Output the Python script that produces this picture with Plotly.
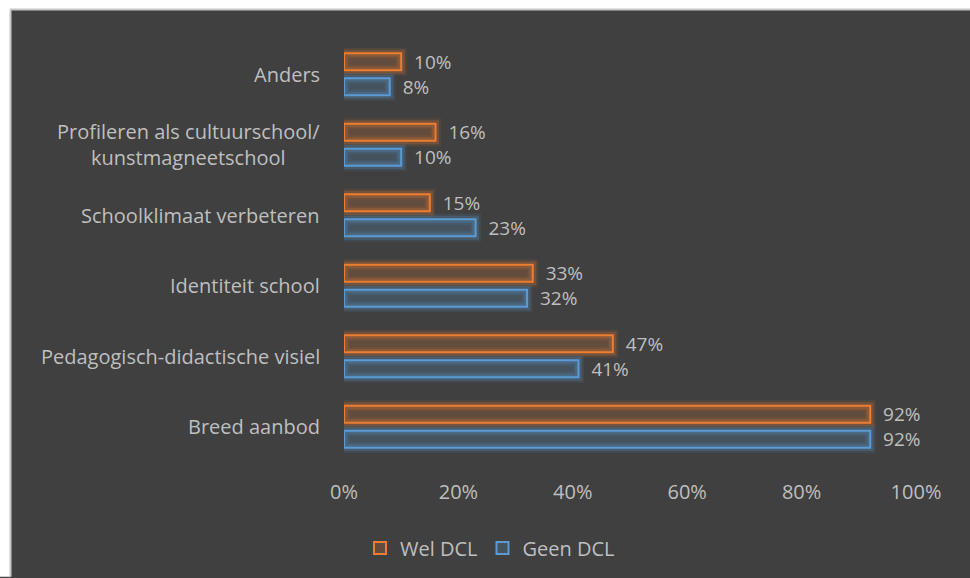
import plotly.graph_objects as go

categories = ["Anders", "Profileren als cultuurschool/<br>kunstmagneetschool",
              "Schoolklimaat verbeteren", "Identiteit school",
              "Pedagogisch-didactische visiel", "Breed aanbod"]
wel_dcl = [0.10, 0.16, 0.15, 0.33, 0.47, 0.92]
geen_dcl = [0.08, 0.10, 0.23, 0.32, 0.41, 0.92]
x_ticks = [0, 0.2, 0.4, 0.6, 0.8, 1.0]
x_tick_labels = ["0%", "20%", "40%", "60%", "80%", "100%"]

ORANGE = "#ED7D31"
BLUE = "#5B9BD5"
BG = "#404040"
TXT = "#bfbfbf"
FONT = "Open Sans"
FS = 20

# plot area in pixels
L, R, T, B = 344, 916, 39, 463
W, H = R - L, B - T

def px_x(p):
    return (p - L) / W

def px_y(p):
    return (B - p) / H

bar_w = 0.24
off_o = -0.297
off_b = 0.057

fig = go.Figure()
series = [("Wel DCL", wel_dcl, ORANGE, "rgba(237,125,49,0.19)", (237, 125, 49), off_o),
          ("Geen DCL", geen_dcl, BLUE, "rgba(91,155,213,0.21)", (91, 155, 213), off_b)]

# glow layers
for name, vals, col, fill, rgb, off in series:
    for gw, ga in ((11, 0.10), (7, 0.22)):
        fig.add_trace(go.Bar(
            y=categories, x=vals, orientation="h", width=bar_w, offset=off,
            marker=dict(color="rgba(0,0,0,0)",
                        line=dict(color=f"rgba({rgb[0]},{rgb[1]},{rgb[2]},{ga})", width=gw)),
            showlegend=False, hoverinfo="skip"))

for name, vals, col, fill, rgb, off in series:
    fig.add_trace(go.Bar(
        y=categories, x=vals, orientation="h", name=name, width=bar_w, offset=off,
        marker=dict(color=fill, line=dict(color=col, width=2)),
        text=["\u00a0\u00a0" + f"{round(v*100)}%" for v in vals],
        textposition="outside", cliponaxis=False, constraintext="none",
        textfont=dict(family=FONT, size=19, color=TXT)))

for c in categories:
    fig.add_annotation(x=0, xref="paper", y=c, yref="y", text=c, showarrow=False,
                       xanchor="right", xshift=-22, align="center",
                       font=dict(family=FONT, size=FS, color=TXT))

shapes = [
    dict(type="rect", xref="paper", yref="paper", x0=px_x(0), x1=px_x(970), y0=px_y(9), y1=px_y(0),
         fillcolor="white", line=dict(width=0), layer="above"),
    dict(type="rect", xref="paper", yref="paper", x0=px_x(0), x1=px_x(10), y0=px_y(578), y1=px_y(0),
         fillcolor="white", line=dict(width=0), layer="above"),
    dict(type="line", xref="paper", yref="paper", x0=px_x(10.5), x1=px_x(10.5), y0=px_y(578), y1=px_y(9),
         line=dict(color="#c8c8c8", width=2), layer="above"),
    dict(type="line", xref="paper", yref="paper", x0=px_x(10), x1=px_x(970), y0=px_y(9.5), y1=px_y(9.5),
         line=dict(color="#c8c8c8", width=2), layer="above"),
]

fig.update_layout(
    width=970, height=578,
    margin=dict(l=L, r=970 - R, t=T, b=578 - B),
    paper_bgcolor=BG, plot_bgcolor=BG,
    barmode="overlay",
    font=dict(family=FONT, size=FS, color=TXT),
    xaxis=dict(range=[0, 1], tickvals=x_ticks, ticktext=x_tick_labels, showgrid=False,
               zeroline=False, showline=False, ticklabelstandoff=16,
               tickfont=dict(family=FONT, size=FS, color=TXT)),
    yaxis=dict(autorange="reversed", showticklabels=False, showgrid=False,
               zeroline=False, showline=False),
    legend=dict(orientation="h", x=px_x(490), xanchor="center", y=px_y(548), yanchor="middle",
                font=dict(family=FONT, size=FS, color=TXT), bgcolor="rgba(0,0,0,0)",
                itemwidth=30),
    shapes=shapes,
)

fig.write_html("out.html", config={"displayModeBar": False},
               post_script="document.body.style.margin='0';document.body.style.padding='0';"
                           "document.documentElement.style.overflow='hidden';")
